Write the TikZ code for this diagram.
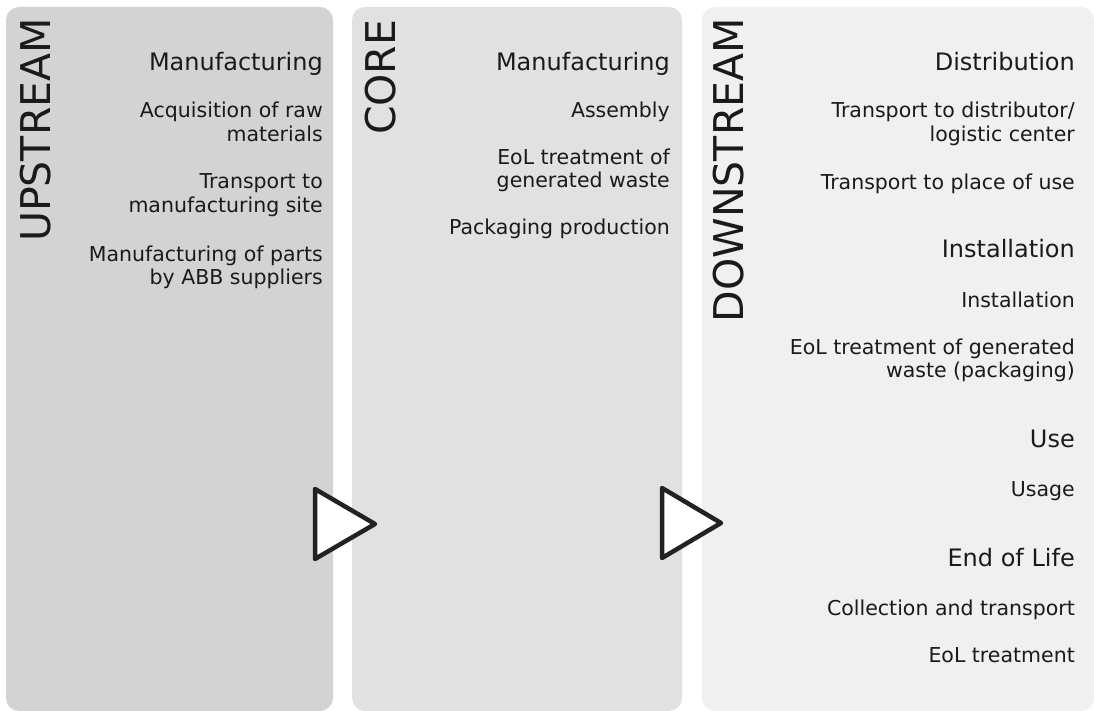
\documentclass[tikz,border=0pt]{standalone}
\usepackage{fontspec}
\setmainfont{DejaVu Sans}
\definecolor{pone}{RGB}{211,211,211}
\definecolor{ptwo}{RGB}{225,225,225}
\definecolor{pthree}{RGB}{240,240,240}
\definecolor{txt}{RGB}{26,26,26}
\definecolor{tri}{RGB}{34,34,34}
\tikzset{
  panel/.style={rounded corners=13pt, draw=none},
  vlabel/.style={font=\fontsize{41}{48}\selectfont, rotate=90, anchor=base east, inner sep=0pt, text=txt},
  head/.style={font=\fontsize{24}{28}\selectfont, anchor=base east, inner sep=0pt, text=txt},
  item/.style={font=\fontsize{20.5}{24}\selectfont, anchor=base east, inner sep=0pt, text=txt},
  flowtri/.style={draw=tri, fill=white, line width=4.5pt, line join=round}
}
\begin{document}
\begin{tikzpicture}[x=1pt,y=1pt]
\useasboundingbox (0,0) rectangle (1094,711);
% panels
\fill[pone, panel] (6,0) rectangle (333,704);
\fill[ptwo, panel] (352,0) rectangle (682,704);
\fill[pthree, panel] (702,0) rectangle (1094,704);
% vertical labels
\node[vlabel] (up) at (50,693) {UPSTREAM};
\node[vlabel] (core) at (395,691.5) {CORE};
\node[vlabel] (down) at (743,693) {DOWNSTREAM};
% upstream texts
\node[head] (u0) at (323,640.3) {Manufacturing};
\node[item] (u1a) at (323,593) {Acquisition of raw};
\node[item] (u1b) at (323,569.3) {materials};
\node[item] (u2a) at (323,522) {Transport to};
\node[item] (u2b) at (323,498) {manufacturing site};
\node[item] (u3a) at (323,449) {Manufacturing of parts};
\node[item] (u3b) at (323,426) {by ABB suppliers};
% core texts
\node[head] (c0) at (670,640.3) {Manufacturing};
\node[item] (c1) at (670,593) {Assembly};
\node[item] (c2a) at (670,546) {EoL treatment of};
\node[item] (c2b) at (670,523) {generated waste};
\node[item] (c3) at (670,476) {Packaging production};
% downstream texts
\node[head] (d0) at (1075,640.3) {Distribution};
\node[item] (d1a) at (1075,593) {Transport to distributor/};
\node[item] (d1b) at (1075,569.3) {logistic center};
\node[item] (d2) at (1075,521) {Transport to place of use};
\node[head] (d3) at (1075,453) {Installation};
\node[item] (d4) at (1075,403) {Installation};
\node[item] (d5a) at (1075,356) {EoL treatment of generated};
\node[item] (d5b) at (1075,333.5) {waste (packaging)};
\node[head] (d6) at (1075,263) {Use};
\node[item] (d7) at (1075,214) {Usage};
\node[head] (d8) at (1075,144) {End of Life};
\node[item] (d9) at (1075,95) {Collection and transport};
\node[item] (d10) at (1075,48) {EoL treatment};
% triangles
\draw[flowtri] (315,222) -- (375,187) -- (315,152) -- cycle;
\draw[flowtri] (662,223) -- (721,188) -- (662,153) -- cycle;
\end{tikzpicture}
\end{document}
